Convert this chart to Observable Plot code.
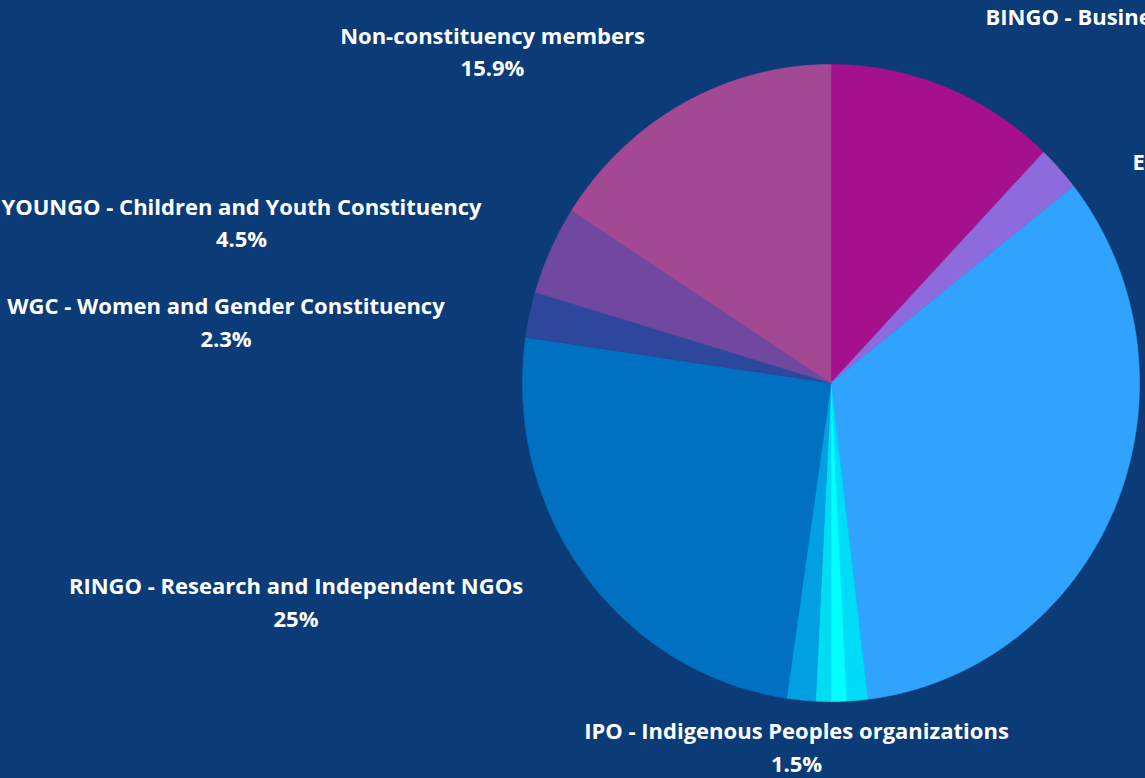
<!DOCTYPE html>
<html>
<head>
<meta charset="utf-8">
<script src="https://cdn.jsdelivr.net/npm/d3@7"></script>
<script src="https://cdn.jsdelivr.net/npm/@observablehq/plot@0.6"></script>
<style>
  html, body { margin: 0; padding: 0; background: #0b3c77; overflow: hidden; }
  #chart svg { display: block; }
</style>
</head>
<body>
<div id="chart"></div>
<script>
// ---- data (clockwise from 12 o'clock) ----
const categories = [
  "BINGO - Business and industry NGOs",
  "ENGO - Environmental NGOs",
  "IGO - Intergovernmental organizations",
  "Farmers",
  "LGMA - Local Governments and Municipal Authorities",
  "TUNGO - Trade Union NGOs",
  "IPO - Indigenous Peoples organizations",
  "RINGO - Research and Independent NGOs",
  "WGC - Women and Gender Constituency",
  "YOUNGO - Children and Youth Constituency",
  "Non-constituency members"
];
const shares = [12.1, 2.3, 33.7, 1.1, 0.8, 0.8, 1.5, 25, 2.3, 4.5, 15.9];
const sliceColors = [
  "#a5108c", "#8d6bdc", "#2fa3fe", "#00dcf7", "#00ffff", "#00dcf2",
  "#00a0e2", "#0070c2", "#2c479b", "#71489f", "#a34893"
];
const pctLabels = ["12.1%", "2.3%", "33.7%", "1.1%", "0.8%", "0.8%", "1.5%", "25%", "2.3%", "4.5%", "15.9%"];

// ---- layout (pixels) ----
const W = 1145, H = 778;
const X0 = 522, X1 = 1139, Y0 = 701, Y1 = 64;
const xInv = px => (px - X0) / (X1 - X0) * 2 - 1;
const yInv = py => 1 - (py - Y1) / (Y0 - Y1) * 2;

// centred labels: [category index, centre x, line1 y, line2 y]
const centredLayout = [
  [10, 492, 36, 68],
  [9, 241, 207.5, 239.5],
  [8, 225.5, 306.5, 339],
  [7, 295.5, 586.5, 619],
  [6, 796, 731.5, 764]
];
// labels running off the right edge: [category index, start x, y]
const startLayout = [
  [0, 985, 17],
  [1, 1132, 162]
];

// ---- pie geometry ----
const total = d3.sum(shares);
const points = [];
let acc = 0;
categories.forEach((cat, i) => {
  const a0 = acc / total * 2 * Math.PI;
  acc += shares[i];
  const a1 = acc / total * 2 * Math.PI;
  const n = Math.max(2, Math.ceil((a1 - a0) / (Math.PI / 720)));
  points.push({cat, x: 0, y: 0});
  for (let k = 0; k <= n; k++) {
    const a = a0 + (a1 - a0) * k / n;
    points.push({cat, x: Math.sin(a), y: Math.cos(a)});
  }
  points.push({cat, x: 0, y: 0});
});

const textRows = [];
centredLayout.forEach(([i, cx, y1, y2]) => {
  textRows.push({t: categories[i], x: xInv(cx), y: yInv(y1)});
  textRows.push({t: pctLabels[i], x: xInv(cx), y: yInv(y2)});
});
const startRows = startLayout.map(([i, sx, sy]) => ({t: categories[i], x: xInv(sx), y: yInv(sy)}));

const chart = Plot.plot({
  width: W,
  height: H,
  margin: 0,
  x: {domain: [-1, 1], range: [X0, X1], axis: null},
  y: {domain: [-1, 1], range: [Y0, Y1], axis: null},
  color: {domain: categories, range: sliceColors},
  style: {background: "#0b3c77", fontFamily: "'Open Sans', sans-serif", overflow: "hidden"},
  marks: [
    Plot.line(points, {x: "x", y: "y", z: "cat", fill: "cat", stroke: "cat", strokeWidth: 0.6}),
    Plot.text(textRows, {x: "x", y: "y", text: "t", fill: "white", fontSize: 22, fontWeight: 700, textAnchor: "middle"}),
    Plot.text(startRows, {x: "x", y: "y", text: "t", fill: "white", fontSize: 22, fontWeight: 700, textAnchor: "start"})
  ]
});
document.getElementById("chart").append(chart);
</script>
</body>
</html>
